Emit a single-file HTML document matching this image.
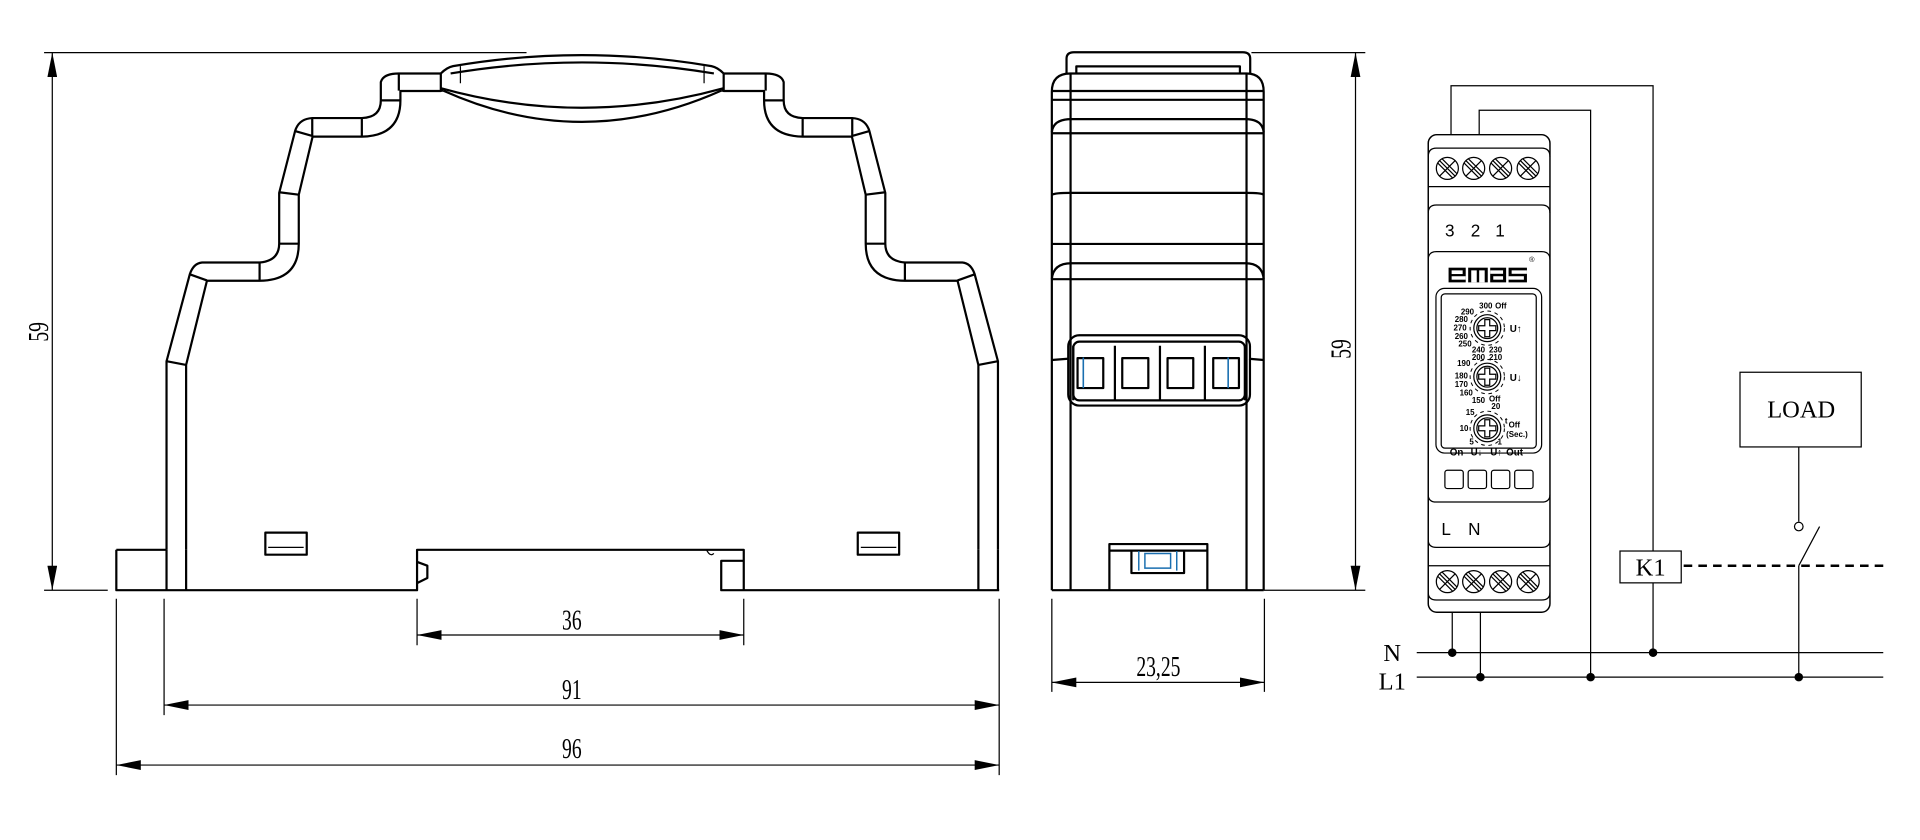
<!DOCTYPE html>
<html><head><meta charset="utf-8"><style>
html,body{margin:0;padding:0;background:#fff;width:1920px;height:840px;overflow:hidden}
svg{display:block}
.o{fill:none;stroke:#000;stroke-width:1.8;stroke-linejoin:round}
.t{fill:none;stroke:#000;stroke-width:1}
.d{font-family:"Liberation Serif",serif;font-size:20px;fill:#000}
.s{font-family:"Liberation Sans",sans-serif;fill:#000}
.b{font-family:"Liberation Sans",sans-serif;font-weight:bold;fill:#000;font-size:6.5px}
</style></head><body>
<svg width="1920" height="840" viewBox="0 0 1568 686" xmlns="http://www.w3.org/2000/svg">
<defs>
<marker id="ar" viewBox="0 0 20 8" refX="20" refY="4" markerWidth="20" markerHeight="8" markerUnits="userSpaceOnUse" orient="auto-start-reverse"><path d="M0,0 L20,4 L0,8 z" fill="#000"/></marker>
<g id="half">
<path class="o" d="M136,449 V295 L155,224 Q158,215 165,214.4 H212 Q228,213 228,199 V157.5 L241,107 Q244,97 255,96.4 H295.5 Q311,96 311,82 V67 Q313,60 325.7,60 H360"/>
<path class="o" d="M152,449 V298 L169,229.3 H212 Q244,229 244,199 V159 L255.3,111.6 H295.5 Q327,111 327,82 V74.3 H360 V60"/>
<path class="o" d="M136,295 L152,298 M155,224 L169,229 M212,214 V229 M228,199 H244 M228,157 L244,159 M241,107 L255,111 M255,96 V111 M295.5,96 V111 M311,82 H327 M325.7,60 V74"/>
<rect class="o" x="216.7" y="435" width="33.8" height="18"/>
<line class="t" x1="219" y1="447" x2="248" y2="447"/>
</g>
<g id="screw"><circle r="9" class="t" stroke-width="1.2"/><path class="t" d="M-6.4,-6.4 L6.4,6.4 M-6.4,6.4 L6.4,-6.4 M-4.5,-8 L8,4.5 M-8,-4.5 L4.5,8" stroke-width="0.8"/></g>
<g id="dial"><circle r="11" class="t" stroke-width="1.2"/><circle r="8.5" class="t"/><path class="t" stroke-width="1.1" d="M-2,-7 H2 V-2 H7 V2 H2 V7 H-2 V2 H-7 V-2 H-2 Z"/><circle r="14" fill="none" stroke="#000" stroke-width="0.8" stroke-dasharray="3 3"/></g>
</defs>

<!-- LEFT VIEW -->
<use href="#half"/>
<use href="#half" transform="translate(951,0) scale(-1,1)"/>
<path class="o" d="M360,60 Q365,55 370,54 Q475,36 581,54 Q586,55 591,60"/>
<path class="o" d="M368,60 Q475,42 583,60"/>
<path class="o" d="M360,72 Q475,104 591,72"/>
<path class="o" d="M362,74 Q475,125 589,74 M362,74 L360,74 M589,74 L591,74"/>
<path class="t" d="M376,54 V68 M575,54 V68"/>
<path class="o" d="M136,449 V482 M152,449 V482 M815,449 V482 M799,449 V482"/>
<path class="o" d="M95,449 H136 M95,449 V482 H340.6 V449 H607.4 V482 H589 V458 H607.4 M607.4,482 H816"/>
<path class="o" d="M341,459 L349,462 V472 L341,476"/>
<path class="t" d="M577,449 Q580,455 583,452"/>

<path class="t" d="M36,43 H430"/>
<path class="t" d="M36,482 H88"/>
<line class="t" x1="42.7" y1="43" x2="42.7" y2="482" marker-start="url(#ar)" marker-end="url(#ar)"/>
<text class="d" transform="translate(39,271) rotate(-90) scale(0.8,1.15)" text-anchor="middle">59</text>
<path class="t" d="M95,489 V633 M134,489 V584 M816,489 V633 M340.6,489 V527 M607.4,489 V527"/>
<line class="t" x1="340.6" y1="518.6" x2="607.4" y2="518.6" marker-start="url(#ar)" marker-end="url(#ar)"/>
<line class="t" x1="134" y1="575.8" x2="816" y2="575.8" marker-start="url(#ar)" marker-end="url(#ar)"/>
<line class="t" x1="95" y1="624.8" x2="816" y2="624.8" marker-start="url(#ar)" marker-end="url(#ar)"/>
<text class="d" transform="translate(467,514) scale(0.8,1.15)" text-anchor="middle">36</text>
<text class="d" transform="translate(467,571) scale(0.8,1.15)" text-anchor="middle">91</text>
<text class="d" transform="translate(467,619) scale(0.8,1.15)" text-anchor="middle">96</text>

<!-- FRONT VIEW -->
<path class="o" d="M871,60 V48 Q871,42.7 877,42.7 H1015 Q1021,42.7 1021,48 V60"/>
<path class="o" d="M879,60 V54.2 H1012.6 V60"/>
<path class="o" d="M859,482 V75 Q859,60 874,60 H1018 Q1032,60 1032,75 V482"/>
<path class="o" d="M874.3,60 V482 M1018,60 V482"/>
<path class="o" d="M859,74.3 H1032 M859,81.5 H1032"/>
<path class="o" d="M859,108 Q860,97.3 875,97.3 H1017 Q1031,97.3 1032,108 M859,108.8 H1032"/>
<path class="o" d="M859,159 Q862,157.5 874,157.5 H1018 Q1030,157.5 1032,159"/>
<path class="o" d="M859,199.2 H1032"/>
<path class="o" d="M859,228 Q860,215 875,215 H1017 Q1031,215 1032,228 M859,228 H1032"/>
<path class="o" d="M859,294 L872,293 M1020,293 L1032,294"/>
<rect class="o" x="872.4" y="273.8" width="148.4" height="57.4" rx="9"/>
<rect class="o" x="876.5" y="279" width="140.2" height="48" rx="5"/>
<path class="o" d="M876.5,282.4 V326.9 M910.5,282.4 V326.9 M947.3,282.4 V326.9 M984,282.4 V326.9 M1016.7,282.4 V326.9"/>
<rect class="o" x="880" y="292.5" width="21" height="24.4"/>
<rect class="o" x="916.5" y="292.5" width="21.3" height="24.4"/>
<rect class="o" x="953.5" y="292.5" width="21" height="24.4"/>
<rect class="o" x="990.8" y="292.5" width="21" height="24.4"/>
<path d="M884.7,292 V317 M1003,292 V317" stroke="#1a6fb0" stroke-width="1.3"/>
<path class="o" d="M906,482 V444.3 H986 V482 M906,449.7 H986"/>
<path class="o" d="M924,449.7 V468 H967 V449.7"/>
<path d="M930,450 V466 M961,450 V466 M935,452 H956 V464 H935 Z" stroke="#1a6fb0" fill="none" stroke-width="1.2"/>
<path class="o" d="M859,482 H1032"/>
<path class="t" d="M1022,43 H1115 M1032,482 H1115"/>
<line class="t" x1="1107" y1="43" x2="1107" y2="482" marker-start="url(#ar)" marker-end="url(#ar)"/>
<text class="d" transform="translate(1103,285) rotate(-90) scale(0.8,1.15)" text-anchor="middle">59</text>
<path class="t" d="M859,489 V565 M1032.6,489 V565"/>
<line class="t" x1="859" y1="557.3" x2="1032.6" y2="557.3" marker-start="url(#ar)" marker-end="url(#ar)"/>
<text class="d" transform="translate(946,552) scale(0.8,1.15)" text-anchor="middle">23,25</text>

<!-- SCHEMATIC -->
<path class="t" d="M1185,110 V70 H1350 V450 M1350,476 V533"/>
<path class="t" d="M1208,110 V90 H1299 V553"/>
<path class="t" d="M1186,500 V533 M1209,500 V553"/>
<path class="t" d="M1157,533 H1538 M1157,553 H1538"/>
<text class="d" x="1137" y="540" text-anchor="middle" font-size="19">N</text>
<text class="d" x="1137" y="563" text-anchor="middle" font-size="19">L1</text>
<g fill="#000"><circle cx="1186" cy="533" r="3.5"/><circle cx="1350" cy="533" r="3.5"/><circle cx="1209" cy="553" r="3.5"/><circle cx="1299" cy="553" r="3.5"/><circle cx="1469" cy="553" r="3.5"/></g>
<rect class="t" x="1323" y="450" width="50" height="26" fill="#fff"/>
<text class="d" x="1348" y="470" text-anchor="middle" font-size="19">K1</text>
<rect class="t" x="1421" y="304" width="99" height="61"/>
<text class="d" x="1471" y="341" text-anchor="middle" font-size="18">LOAD</text>
<path class="t" d="M1469,365 V426 M1469,462 V553 M1469,462 L1486,430"/>
<circle cx="1469" cy="430" r="3.5" fill="#fff" stroke="#000" stroke-width="1"/>
<path d="M1375,462 H1540" stroke="#000" stroke-width="2" stroke-dasharray="7 5"/>
<rect x="1166.4" y="110" width="99.4" height="390" rx="7" fill="#fff" stroke="#000" stroke-width="1.2"/>
<path class="t" stroke-width="1.2" d="M1166.4,128 Q1166.4,121 1173,121 H1259 Q1265.8,121 1265.8,128 M1166.4,152.4 H1265.8"/>
<path class="t" stroke-width="1.2" d="M1166.4,174 Q1166.4,167.4 1173,167.4 H1259 Q1265.8,167.4 1265.8,174"/>
<path class="t" stroke-width="1.2" d="M1166.4,212 Q1166.4,205.5 1173,205.5 H1259 Q1265.8,205.5 1265.8,212"/>
<path class="t" stroke-width="1.2" d="M1166.4,404 Q1166.4,410 1173,410 H1259 Q1265.8,410 1265.8,404"/>
<path class="t" stroke-width="1.2" d="M1166.4,441 Q1166.4,447 1173,447 H1259 Q1265.8,447 1265.8,441 M1166.4,462 H1265.8"/>
<path class="t" stroke-width="1.2" d="M1166.4,484 Q1166.4,490 1173,490 H1259 Q1265.8,490 1265.8,484"/>
<use href="#screw" x="1182" y="137.5"/><use href="#screw" x="1203.5" y="137.5"/><use href="#screw" x="1225.5" y="137.5"/><use href="#screw" x="1248" y="137.5"/>
<use href="#screw" x="1182" y="475"/><use href="#screw" x="1203.5" y="475"/><use href="#screw" x="1225.5" y="475"/><use href="#screw" x="1248" y="475"/>
<text class="s" x="1184" y="193" font-size="14" text-anchor="middle">3</text>
<text class="s" x="1205" y="193" font-size="14" text-anchor="middle">2</text>
<text class="s" x="1225" y="193" font-size="14" text-anchor="middle">1</text>
<text class="s" x="1181" y="437" font-size="14" text-anchor="middle">L</text>
<text class="s" x="1204" y="437" font-size="14" text-anchor="middle">N</text>
<!-- emas logo -->
<g fill="#000">
<rect x="1183" y="218.6" width="14" height="12"/><rect x="1199" y="218.6" width="16" height="12"/><rect x="1217" y="218.6" width="13" height="12"/><rect x="1232" y="218.6" width="15" height="12"/>
</g>
<g fill="#fff">
<rect x="1185.5" y="220.8" width="9" height="3"/><rect x="1185.5" y="225.6" width="11.5" height="2.8"/>
<rect x="1201.5" y="220.8" width="4.5" height="9.8"/><rect x="1208" y="220.8" width="4.5" height="9.8"/>
<rect x="1217" y="220.8" width="10.5" height="2.8"/><rect x="1219.5" y="225.6" width="8" height="2.8"/>
<rect x="1234.5" y="220.8" width="12.5" height="2.8"/><rect x="1232" y="225.6" width="12.5" height="2.8"/>
</g>
<text class="s" x="1251" y="214" font-size="6" text-anchor="middle">®</text>
<rect class="t" x="1172.7" y="235.5" width="86.3" height="134.5" rx="7" stroke-width="1.2"/>
<rect class="t" x="1177" y="240" width="77.6" height="126" rx="3"/>
<use href="#dial" x="1214.6" y="268"/>
<use href="#dial" x="1214.6" y="307.6"/>
<use href="#dial" x="1214.6" y="349.8"/>
<text class="b" x="1208" y="252">300</text><text class="b" x="1221" y="252">Off</text>
<text class="b" x="1193" y="257">290</text><text class="b" x="1188" y="263">280</text><text class="b" x="1187" y="270">270</text><text class="b" x="1188" y="277">260</text><text class="b" x="1191" y="283">250</text>
<text class="b" x="1202" y="288">240</text><text class="b" x="1216" y="288">230</text><text class="b" x="1202" y="294">200</text><text class="b" x="1216" y="294">210</text>
<text class="b" x="1190" y="299">190</text><text class="b" x="1188" y="309">180</text><text class="b" x="1188" y="316">170</text><text class="b" x="1192" y="323">160</text>
<text class="b" x="1202" y="329">150</text><text class="b" x="1216" y="328">Off</text><text class="b" x="1218" y="334">20</text>
<text class="b" x="1197" y="339">15</text><text class="b" x="1192" y="352">10</text><text class="b" x="1200" y="363">5</text><text class="b" x="1223" y="363">1</text>
<text class="s" font-weight="bold" x="1233" y="271" font-size="8">U↑</text>
<text class="s" font-weight="bold" x="1233" y="311" font-size="8">U↓</text>
<text class="b" x="1229" y="346" font-size="7">t</text><text class="b" x="1232" y="349" font-size="7.5">Off</text>
<text class="b" x="1230" y="357" font-size="7.5">(Sec.)</text>
<text class="s" font-weight="bold" x="1184" y="372" font-size="8">On</text>
<text class="s" font-weight="bold" x="1201" y="372" font-size="8">U↓</text>
<text class="s" font-weight="bold" x="1217" y="372" font-size="8">U↑</text>
<text class="s" font-weight="bold" x="1230" y="372" font-size="8">Out</text>
<rect class="t" x="1180" y="384" width="15" height="15" rx="2"/>
<rect class="t" x="1199" y="384" width="15" height="15" rx="2"/>
<rect class="t" x="1218" y="384" width="15" height="15" rx="2"/>
<rect class="t" x="1237" y="384" width="15" height="15" rx="2"/>
</svg>
</body></html>
